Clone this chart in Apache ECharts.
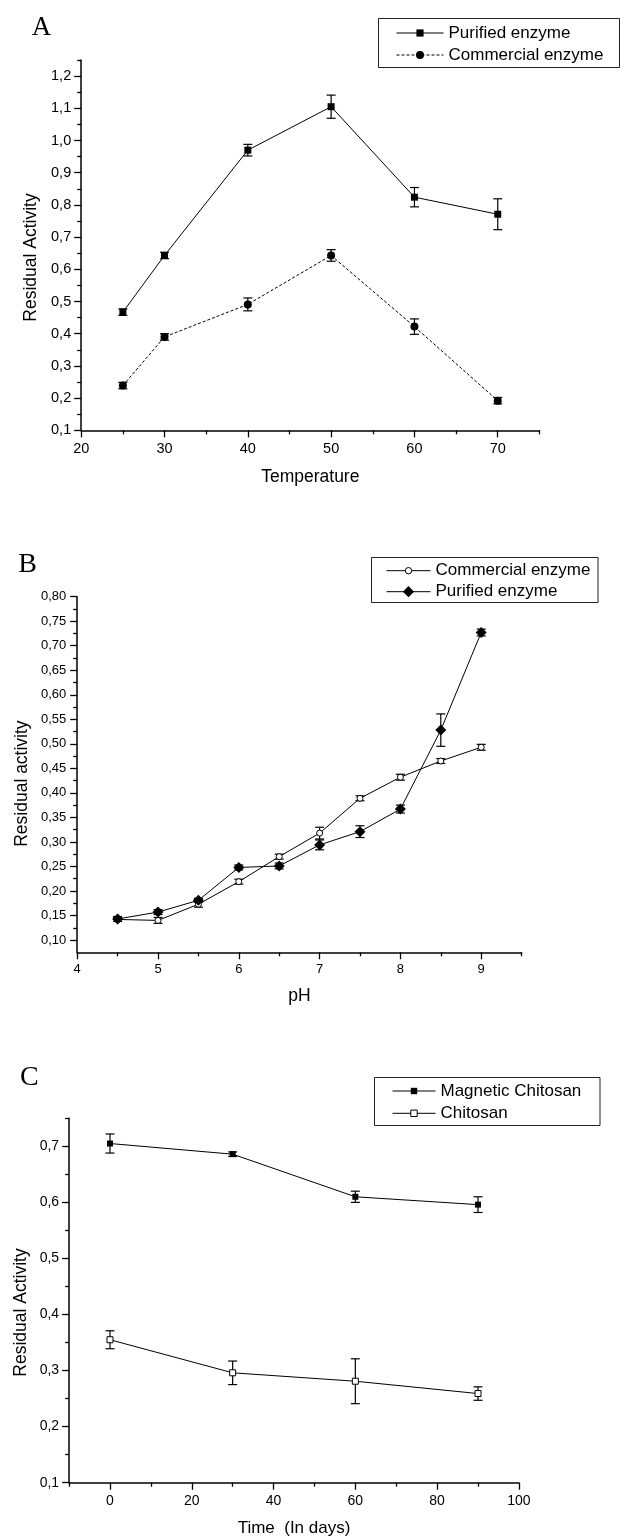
<!DOCTYPE html>
<html><head><meta charset="utf-8">
<script src="https://cdn.jsdelivr.net/npm/echarts@6/dist/echarts.min.js"></script>
<style>html,body{margin:0;padding:0;background:#fff}#c{width:621px;height:1539px}</style>
</head><body><div id="c"></div>
<script>
// ---------- Panel A : Temperature ----------
const tempX = [25, 30, 40, 50, 60, 70];
const purifiedA = [0.467, 0.643, 0.970, 1.105, 0.824, 0.771];
const purifiedAErr = [0.010, 0.010, 0.018, 0.036, 0.030, 0.048];
const commercialA = [0.239, 0.390, 0.491, 0.643, 0.422, 0.192];
const commercialAErr = [0.010, 0.010, 0.020, 0.018, 0.024, 0.010];
const tempTicks = [20, 30, 40, 50, 60, 70];
const tempMinor = [25, 35, 45, 55, 65, 75];
const actATicks = [0.1, 0.2, 0.3, 0.4, 0.5, 0.6, 0.7, 0.8, 0.9, 1.0, 1.1, 1.2];
const actAMinor = [0.15, 0.25, 0.35, 0.45, 0.55, 0.65, 0.75, 0.85, 0.95, 1.05, 1.15, 1.25];

// ---------- Panel B : pH ----------
const phX = [4.5, 5, 5.5, 6, 6.5, 7, 7.5, 8, 8.5, 9];
const commercialB = [0.142, 0.140, 0.173, 0.219, 0.270, 0.318, 0.389, 0.432, 0.465, 0.493];
const commercialBErr = [0.004, 0.006, 0.006, 0.005, 0.005, 0.012, 0.005, 0.006, 0.005, 0.006];
const purifiedB = [0.143, 0.157, 0.181, 0.248, 0.251, 0.294, 0.321, 0.367, 0.528, 0.727];
const purifiedBErr = [0.005, 0.005, 0.004, 0.005, 0.006, 0.010, 0.012, 0.008, 0.033, 0.007];
const phTicks = [4, 5, 6, 7, 8, 9];
const phMinor = [4.5, 5.5, 6.5, 7.5, 8.5, 9.5];
const actBTicks = [0.10, 0.15, 0.20, 0.25, 0.30, 0.35, 0.40, 0.45, 0.50, 0.55, 0.60, 0.65, 0.70, 0.75, 0.80];
const actBMinor = [0.125, 0.175, 0.225, 0.275, 0.325, 0.375, 0.425, 0.475, 0.525, 0.575, 0.625, 0.675, 0.725, 0.775];

// ---------- Panel C : Storage time ----------
const dayX = [0, 30, 60, 90];
const magneticC = [0.705, 0.686, 0.610, 0.596];
const magneticCErr = [0.017, 0.004, 0.010, 0.014];
const chitosanC = [0.355, 0.296, 0.281, 0.259];
const chitosanCErr = [0.016, 0.021, 0.040, 0.012];
const dayTicks = [0, 20, 40, 60, 80, 100];
const dayMinor = [-10, 10, 30, 50, 70, 90];
const actCTicks = [0.1, 0.2, 0.3, 0.4, 0.5, 0.6, 0.7];
const actCMinor = [0.15, 0.25, 0.35, 0.45, 0.55, 0.65, 0.75];

const FONT = '"Liberation Sans", Arial, sans-serif';
const SERIF = '"Liberation Serif", "Times New Roman", serif';

function pairs(xs, ys) { return xs.map((x, i) => [x, ys[i]]); }
function triples(xs, ys, es) { return xs.map((x, i) => [x, ys[i], es[i]]); }
const comma = d => v => v.toFixed(d).replace('.', ',');

function axisPair(dim, gridIndex, min, max, majors, minors, fmt, fs, margin) {
  const pos = dim === 'x' ? 'bottom' : 'left';
  const main = {
    type: 'value', gridIndex, position: pos, min, max,
    axisLine: { show: true, onZero: false, lineStyle: { color: '#000', width: 1.5 } },
    axisTick: { show: true, inside: false, length: 7, customValues: majors, lineStyle: { color: '#000', width: 1.3 } },
    axisLabel: { show: true, customValues: majors, formatter: fmt, margin, color: '#000', fontSize: fs, fontFamily: FONT },
    splitLine: { show: false }
  };
  const minor = {
    type: 'value', gridIndex, position: pos, min, max,
    axisLine: { show: false, onZero: false },
    axisTick: { show: true, inside: false, length: 4, customValues: minors, lineStyle: { color: '#000', width: 1.3 } },
    axisLabel: { show: false }, splitLine: { show: false }
  };
  return [main, minor];
}

function errSeries(g, data) {
  return {
    type: 'custom', xAxisIndex: 2 * g, yAxisIndex: 2 * g, z: 1, silent: true,
    data, encode: { x: 0, y: 1 },
    renderItem(params, api) {
      const x = api.value(0), y = api.value(1), e = api.value(2);
      const t = api.coord([x, y + e]), b = api.coord([x, y - e]);
      const hw = 4.5, st = { stroke: '#000', lineWidth: 1.2 };
      return { type: 'group', children: [
        { type: 'line', shape: { x1: t[0], y1: t[1], x2: b[0], y2: b[1] }, style: st },
        { type: 'line', shape: { x1: t[0] - hw, y1: t[1], x2: t[0] + hw, y2: t[1] }, style: st },
        { type: 'line', shape: { x1: b[0] - hw, y1: b[1], x2: b[0] + hw, y2: b[1] }, style: st }
      ] };
    }
  };
}

function lineSeries(g, name, data, symbol, size, filled, dashed) {
  return {
    type: 'line', name, xAxisIndex: 2 * g, yAxisIndex: 2 * g, z: 3,
    data, symbol, symbolSize: size, showSymbol: true,
    itemStyle: filled ? { color: '#000' } : { color: '#fff', borderColor: '#000', borderWidth: 1 },
    lineStyle: { color: '#000', width: 1, type: dashed ? [3, 2] : 'solid' }
  };
}

const displayNames = {};
function legendRow(name, text, left, cy, itemWidth, itemHeight, filled, dashed) {
  displayNames[name] = text;
  return {
    show: true, selectedMode: false, orient: 'horizontal', left, top: cy - 10, padding: 0,
    itemWidth, itemHeight, itemGap: 0, data: [name],
    formatter: n => displayNames[n],
    textStyle: { fontSize: 17, fontFamily: FONT, color: '#000', lineHeight: 20 },
    itemStyle: filled ? { color: '#000', borderWidth: 0 } : { color: '#fff', borderColor: '#000', borderWidth: 1 },
    lineStyle: { color: '#000', width: 1, type: dashed ? [3, 2] : 'solid' }
  };
}

const [axA, axAm] = axisPair('x', 0, 20, 75, tempTicks, tempMinor, v => String(v), 14.5, 11);
const [ayA, ayAm] = axisPair('y', 0, 0.1, 1.25, actATicks, actAMinor, comma(1), 14.5, 10);
const [axB, axBm] = axisPair('x', 1, 4, 9.5, phTicks, phMinor, v => String(v), 13, 11);
const [ayB, ayBm] = axisPair('y', 1, 0.075, 0.8, actBTicks, actBMinor, comma(2), 13, 11);
const [axC, axCm] = axisPair('x', 2, -10, 100, dayTicks, dayMinor, v => String(v), 14, 11);
const [ayC, ayCm] = axisPair('y', 2, 0.1, 0.75, actCTicks, actCMinor, comma(1), 14, 10);

function txt(s, x, y, size, family, rot) {
  return { type: 'text', x, y, rotation: rot || 0, silent: true,
    style: { text: s, font: size + 'px ' + family, fill: '#000',
      align: 'center', verticalAlign: 'middle', textAlign: 'center', textVerticalAlign: 'middle' } };
}
function box(x, y, w, h) {
  return { type: 'rect', silent: true, shape: { x, y, width: w, height: h },
    style: { fill: 'none', stroke: '#222', lineWidth: 1 } };
}

const option = {
  animation: false,
  backgroundColor: '#fff',
  grid: [
    { left: 81.2, top: 60, width: 458.2, height: 370.3, outerBoundsMode: 'none', containLabel: false },
    { left: 77.2, top: 596.7, width: 444.4, height: 355.6, outerBoundsMode: 'none', containLabel: false },
    { left: 69.1, top: 1118.3, width: 449.8, height: 364.4, outerBoundsMode: 'none', containLabel: false }
  ],
  xAxis: [axA, axAm, axB, axBm, axC, axCm],
  yAxis: [ayA, ayAm, ayB, ayBm, ayC, ayCm],
  legend: [
    legendRow('A1', 'Purified enzyme', 396, 33, 47, 9, true, false),
    legendRow('A2', 'Commercial enzyme', 396, 55, 47, 10, true, true),
    legendRow('B1', 'Commercial enzyme', 386, 570.7, 44, 8, false, false),
    legendRow('B2', 'Purified enzyme', 386, 591.7, 44, 14, true, false),
    legendRow('C1', 'Magnetic Chitosan', 392, 1091, 43, 8, true, false),
    legendRow('C2', 'Chitosan', 392, 1113.3, 43, 8, false, false)
  ],
  graphic: { elements: [
    box(378.5, 18.5, 241, 49),
    box(371.5, 557.5, 226.5, 45),
    box(374.5, 1077.5, 225.5, 48),
    txt('A', 41.6, 28, 27, SERIF),
    txt('B', 27.7, 565, 28, SERIF),
    txt('C', 29.3, 1078, 28, SERIF),
    txt('Residual Activity', 30.7, 257.5, 17.5, FONT, Math.PI / 2),
    txt('Temperature', 310.3, 476.7, 17.5, FONT),
    txt('Residual activity', 21.8, 783.6, 17.5, FONT, Math.PI / 2),
    txt('pH', 299.4, 996, 17.5, FONT),
    txt('Residual Activity', 20.8, 1312.5, 17.5, FONT, Math.PI / 2),
    txt('Time  (In days)', 294, 1528.3, 17, FONT)
  ] },
  series: [
    errSeries(0, triples(tempX, purifiedA, purifiedAErr)),
    errSeries(0, triples(tempX, commercialA, commercialAErr)),
    lineSeries(0, 'A1', pairs(tempX, purifiedA), 'rect', 7, true, false),
    lineSeries(0, 'A2', pairs(tempX, commercialA), 'circle', 8, true, true),
    errSeries(1, triples(phX, commercialB, commercialBErr)),
    errSeries(1, triples(phX, purifiedB, purifiedBErr)),
    lineSeries(1, 'B1', pairs(phX, commercialB), 'circle', 6, false, false),
    lineSeries(1, 'B2', pairs(phX, purifiedB), 'diamond', 11, true, false),
    errSeries(2, triples(dayX, magneticC, magneticCErr)),
    errSeries(2, triples(dayX, chitosanC, chitosanCErr)),
    lineSeries(2, 'C1', pairs(dayX, magneticC), 'rect', 6, true, false),
    lineSeries(2, 'C2', pairs(dayX, chitosanC), 'rect', 6, false, false)
  ]
};
const chart = echarts.init(document.getElementById('c'), null, { renderer: 'canvas' });
chart.setOption(option);
</script></body></html>
